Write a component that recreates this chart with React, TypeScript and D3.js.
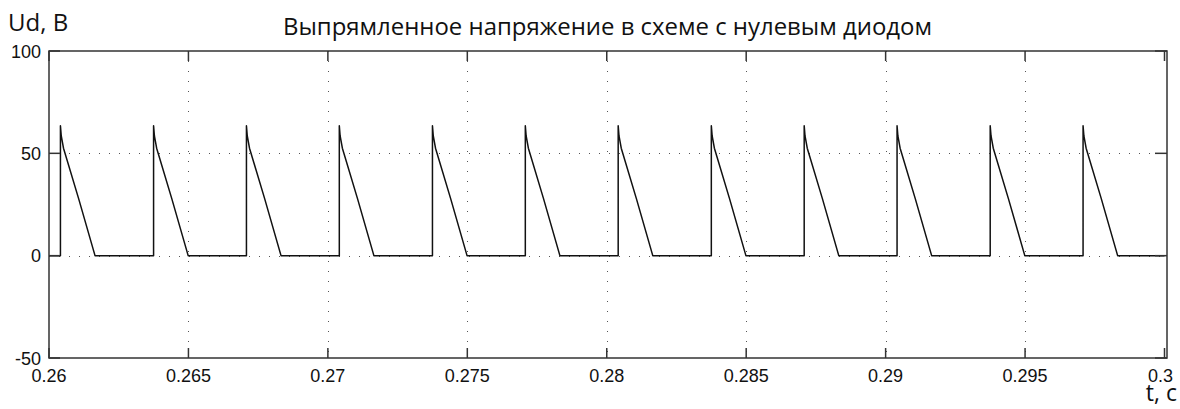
import { useEffect, useRef } from "react";
import * as d3 from "d3";

// axis ticks
const xTicks = [0.26, 0.265, 0.27, 0.275, 0.28, 0.285, 0.29, 0.295, 0.3];
const xTickLabels = ["0.26", "0.265", "0.27", "0.275", "0.28", "0.285", "0.29", "0.295", "0.3"];
const yTicks = [-50, 0, 50, 100];
const yTickLabels = ["-50", "0", "50", "100"];

// rectified voltage trace (t in s, Ud in V)
const timeS = [
  0.26,
  0.26041, 0.26041, 0.26044, 0.26052, 0.26106, 0.26165,
  0.26375, 0.26375, 0.26378, 0.26386, 0.2644, 0.26499,
  0.26708, 0.26708, 0.26711, 0.26719, 0.26773, 0.26832,
  0.27041, 0.27041, 0.27044, 0.27052, 0.27106, 0.27165,
  0.27375, 0.27375, 0.27378, 0.27386, 0.2744, 0.27499,
  0.27708, 0.27708, 0.27711, 0.27719, 0.27773, 0.27832,
  0.28041, 0.28041, 0.28044, 0.28052, 0.28106, 0.28165,
  0.28375, 0.28375, 0.28378, 0.28386, 0.2844, 0.28499,
  0.28708, 0.28708, 0.28711, 0.28719, 0.28773, 0.28832,
  0.29041, 0.29041, 0.29044, 0.29052, 0.29106, 0.29165,
  0.29375, 0.29375, 0.29378, 0.29386, 0.2944, 0.29499,
  0.29708, 0.29708, 0.29711, 0.29719, 0.29773, 0.29832,
  0.3,
];
const udValues = [
  0,
  0, 63.5, 58.5, 52.5, 28, 0,
  0, 63.5, 58.5, 52.5, 28, 0,
  0, 63.5, 58.5, 52.5, 28, 0,
  0, 63.5, 58.5, 52.5, 28, 0,
  0, 63.5, 58.5, 52.5, 28, 0,
  0, 63.5, 58.5, 52.5, 28, 0,
  0, 63.5, 58.5, 52.5, 28, 0,
  0, 63.5, 58.5, 52.5, 28, 0,
  0, 63.5, 58.5, 52.5, 28, 0,
  0, 63.5, 58.5, 52.5, 28, 0,
  0, 63.5, 58.5, 52.5, 28, 0,
  0, 63.5, 58.5, 52.5, 28, 0,
  0,
];

const title = "Выпрямленное напряжение в схеме с нулевым диодом";

const App = () => {
  const svgRef = useRef<SVGSVGElement>(null);

  useEffect(() => {
    const W = 1180;
    const H = 409;
    const left = 49;
    const top = 51;
    const bottom = 358;
    const frameRight = 1167;

    d3.select(svgRef.current).selectAll("*").remove();
    const svg = d3.select(svgRef.current).attr("width", W).attr("height", H);

    const x = d3.scaleLinear().domain([0.26, 0.3]).range([left, 1164.5]);
    const y = d3.scaleLinear().domain([-50, 100]).range([bottom, top]);

    svg.append("rect").attr("width", W).attr("height", H).attr("fill", "white");

    // dotted grid
    const grid = svg.append("g").attr("stroke", "#555").attr("stroke-width", 1).attr("stroke-dasharray", "1 9");
    grid
      .selectAll("line.gx")
      .data(xTicks.slice(1, -1))
      .enter()
      .append("line")
      .attr("x1", (d) => Math.round(x(d)) + 0.5)
      .attr("x2", (d) => Math.round(x(d)) + 0.5)
      .attr("y1", top)
      .attr("y2", bottom);
    grid
      .selectAll("line.gy")
      .data(yTicks.slice(1, -1))
      .enter()
      .append("line")
      .attr("y1", (d) => Math.round(y(d)) + 0.5)
      .attr("y2", (d) => Math.round(y(d)) + 0.5)
      .attr("x1", left)
      .attr("x2", frameRight);

    // trace
    const line = d3
      .line<number>()
      .x((_, i) => x(timeS[i]))
      .y((d) => y(d));
    svg
      .append("path")
      .datum(udValues)
      .attr("fill", "none")
      .attr("stroke", "#111")
      .attr("stroke-width", 1.5)
      .attr("stroke-linejoin", "round")
      .attr("d", line);

    // frame
    svg
      .append("rect")
      .attr("x", left)
      .attr("y", top)
      .attr("width", frameRight - left)
      .attr("height", bottom - top)
      .attr("fill", "none")
      .attr("stroke", "#333")
      .attr("stroke-width", 1.5);

    // inward ticks
    const ticks = svg.append("g").attr("stroke", "#333").attr("stroke-width", 1.5);
    xTicks.forEach((t) => {
      ticks.append("line").attr("x1", x(t)).attr("x2", x(t)).attr("y1", top).attr("y2", top + 10);
      ticks.append("line").attr("x1", x(t)).attr("x2", x(t)).attr("y1", bottom).attr("y2", bottom - 10);
    });
    yTicks.forEach((v) => {
      ticks.append("line").attr("x1", left).attr("x2", left + 11).attr("y1", y(v)).attr("y2", y(v));
      ticks.append("line").attr("x1", frameRight).attr("x2", frameRight - 12).attr("y1", y(v)).attr("y2", y(v));
    });

    // tick labels
    const labelFont = "'Liberation Sans', Arial, sans-serif";
    svg
      .selectAll("text.xl")
      .data(xTicks)
      .enter()
      .append("text")
      .attr("x", (d, i) => x(d) - (i === xTicks.length - 1 ? 4 : 0))
      .attr("y", 382)
      .attr("text-anchor", "middle")
      .attr("font-family", labelFont)
      .attr("font-size", 18)
      .attr("fill", "#111")
      .text((_, i) => xTickLabels[i]);
    svg
      .selectAll("text.yl")
      .data(yTicks)
      .enter()
      .append("text")
      .attr("x", 41)
      .attr("y", (d) => y(d) + 6.5)
      .attr("text-anchor", "end")
      .attr("font-family", labelFont)
      .attr("font-size", 18)
      .attr("fill", "#111")
      .text((_, i) => yTickLabels[i]);

    // titles
    const titleFont = "'Open Sans', 'Noto Sans', sans-serif";
    svg
      .append("text")
      .attr("x", 283)
      .attr("y", 35)
      .attr("font-family", titleFont)
      .attr("font-size", 23)
      .attr("textLength", 649)
      .attr("lengthAdjust", "spacingAndGlyphs")
      .attr("fill", "#111")
      .text(title);
    svg
      .append("text")
      .attr("x", 8)
      .attr("y", 31)
      .attr("font-family", titleFont)
      .attr("font-size", 24)
      .attr("fill", "#111")
      .text("Ud, B");
    svg
      .append("text")
      .attr("x", 1177)
      .attr("y", 401)
      .attr("text-anchor", "end")
      .attr("font-family", titleFont)
      .attr("font-size", 23)
      .attr("fill", "#111")
      .text("t, c");
  }, []);

  return <svg ref={svgRef} style={{ position: "absolute", left: 0, top: 0 }}></svg>;
};

export default App;
